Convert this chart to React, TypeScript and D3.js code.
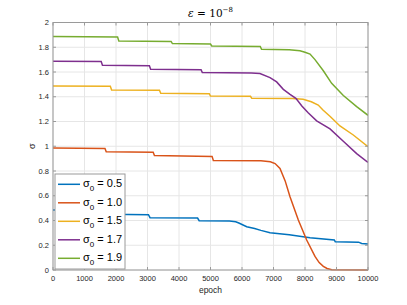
import React from "react";
import * as d3 from "d3";

const xTicks = [0, 1000, 2000, 3000, 4000, 5000, 6000, 7000, 8000, 9000, 10000];
const yTicks = [0, 0.2, 0.4, 0.6, 0.8, 1, 1.2, 1.4, 1.6, 1.8, 2];
const yTickLabels = ["0", "0.2", "0.4", "0.6", "0.8", "1", "1.2", "1.4", "1.6", "1.8", "2"];

const seriesNames = ["0.5", "1.0", "1.5", "1.7", "1.9"];
const seriesColors = ["#0072BD", "#D95319", "#EDB120", "#7E2F8E", "#77AC30"];

const blue: [number, number][] = [
  [0, 0.485], [1680, 0.483], [1740, 0.45], [3030, 0.447], [3080, 0.423], [4590, 0.42], [4640, 0.398],
  [5600, 0.396], [5800, 0.39], [5900, 0.38], [6150, 0.35], [6400, 0.335], [6600, 0.32], [6890, 0.301],
  [7500, 0.285], [8160, 0.261], [8930, 0.243], [8960, 0.229], [9700, 0.225], [9800, 0.215], [10000, 0.21],
];
const orange: [number, number][] = [
  [0, 0.985], [1650, 0.982], [1690, 0.955], [3180, 0.952], [3220, 0.925], [5050, 0.918], [5090, 0.885],
  [6600, 0.883], [6900, 0.875], [7050, 0.86], [7206, 0.82], [7370, 0.72], [7524, 0.592], [7788, 0.404],
  [8053, 0.242], [8317, 0.11], [8450, 0.06], [8582, 0.03], [8700, 0.012], [8850, 0.002], [10000, 0.0],
];
const yellow: [number, number][] = [
  [0, 1.487], [1820, 1.485], [1860, 1.455], [3380, 1.452], [3420, 1.428], [4960, 1.425], [5000, 1.406],
  [6270, 1.404], [6310, 1.387], [7600, 1.385], [7940, 1.38], [8200, 1.36], [8420, 1.333], [8570, 1.293],
  [8800, 1.24], [9110, 1.164], [9533, 1.091], [10000, 0.996],
];
const purple: [number, number][] = [
  [0, 1.686], [1530, 1.684], [1570, 1.654], [3060, 1.651], [3100, 1.622], [4700, 1.619], [4740, 1.595],
  [6300, 1.592], [6570, 1.588], [6889, 1.555], [7100, 1.52], [7312, 1.46], [7524, 1.42], [7710, 1.387],
  [7900, 1.325], [8100, 1.27], [8370, 1.205], [8794, 1.14], [9216, 1.04], [9640, 0.94], [10000, 0.87],
];
const green: [number, number][] = [
  [0, 1.887], [2050, 1.882], [2090, 1.851], [3750, 1.847], [3790, 1.83], [5000, 1.826], [5040, 1.81],
  [6580, 1.807], [6620, 1.784], [7500, 1.78], [7840, 1.772], [8000, 1.76], [8160, 1.745], [8317, 1.70],
  [8582, 1.61], [8846, 1.508], [9217, 1.41], [9640, 1.32], [10000, 1.25],
];

const allSeries = [blue, orange, yellow, purple, green];

const W = 407;
const H = 305;
const L = 53;
const R = 368;
const T = 22.5;
const B = 270;

export default function App() {
  const x = d3.scaleLinear().domain([0, 10000]).range([L, R]);
  const y = d3.scaleLinear().domain([0, 2]).range([B, T]);
  const line = d3
    .line<[number, number]>()
    .x((d) => x(d[0]))
    .y((d) => y(d[1]));
  const font = "'Liberation Sans', Arial, sans-serif";
  const tickColor = "#262626";
  const axisColor = "#9a9a9a";
  return (
    <svg
      width={W}
      height={H}
      style={{ position: "absolute", left: 0, top: 0, background: "#fff" }}
    >
      <rect x={0} y={0} width={W} height={H} fill="#fff" />
      {xTicks.map((t) => (
        <line key={"gx" + t} x1={x(t)} x2={x(t)} y1={T} y2={B} stroke="#e6e6e6" strokeWidth={1} />
      ))}
      {yTicks.map((t) => (
        <line key={"gy" + t} x1={L} x2={R} y1={y(t)} y2={y(t)} stroke="#e6e6e6" strokeWidth={1} />
      ))}
      <defs>
        <clipPath id="clip">
          <rect x={L} y={T - 1} width={R - L} height={B - T + 2} />
        </clipPath>
      </defs>
      <g clipPath="url(#clip)">
        {allSeries.map((s, i) => (
          <path key={i} d={line(s) || ""} fill="none" stroke={seriesColors[i]} strokeWidth={1.5} />
        ))}
      </g>
      <rect x={L} y={T} width={R - L} height={B - T} fill="none" stroke={axisColor} strokeWidth={1} />
      {xTicks.map((t) => (
        <g key={"xt" + t}>
          <line x1={x(t)} x2={x(t)} y1={B} y2={B - 3} stroke={axisColor} />
          <line x1={x(t)} x2={x(t)} y1={T} y2={T + 3} stroke={axisColor} />
          <text x={x(t)} y={B + 11} fontSize={7.5} fontFamily={font} fill={tickColor} textAnchor="middle">
            {t}
          </text>
        </g>
      ))}
      {yTicks.map((t, i) => (
        <g key={"yt" + t}>
          <line x1={L} x2={L + 3} y1={y(t)} y2={y(t)} stroke={axisColor} />
          <line x1={R} x2={R - 3} y1={y(t)} y2={y(t)} stroke={axisColor} />
          <text x={L - 4} y={y(t) + 2.7} fontSize={7.5} fontFamily={font} fill={tickColor} textAnchor="end">
            {yTickLabels[i]}
          </text>
        </g>
      ))}
      <text
        transform={`translate(35,${(T + B) / 2}) rotate(-90)`}
        fontSize={9}
        fontFamily={font}
        fill={tickColor}
        textAnchor="middle"
      >
        σ
      </text>
      <text x={(L + R) / 2} y={293} fontSize={8.5} fontFamily={font} fill={tickColor} textAnchor="middle">
        epoch
      </text>
      <text
        x={(L + R) / 2}
        y={16.5}
        fontSize={10.5}
        fontFamily="'DejaVu Serif', 'Liberation Serif', serif"
        fill="#000"
        textAnchor="middle"
      >
        <tspan fontStyle="italic">ε</tspan>
        <tspan> = 10</tspan>
        <tspan fontSize={7} dy={-4.5}>−8</tspan>
      </text>
      <rect x={55} y={174} width={70} height={95} fill="#fff" stroke="#9a9a9a" strokeWidth={1} />
      {seriesNames.map((n, i) => {
        const ly = 184.3 + i * 18.5;
        return (
          <g key={"lg" + n}>
            <line x1={58} x2={80} y1={ly} y2={ly} stroke={seriesColors[i]} strokeWidth={1.5} />
            <text x={83} y={ly + 3} fontSize={11} fontFamily={font} fill="#000">
              σ
              <tspan fontSize={8} dy={4}>0</tspan>
              <tspan dy={-4}> = {n}</tspan>
            </text>
          </g>
        );
      })}
    </svg>
  );
}
